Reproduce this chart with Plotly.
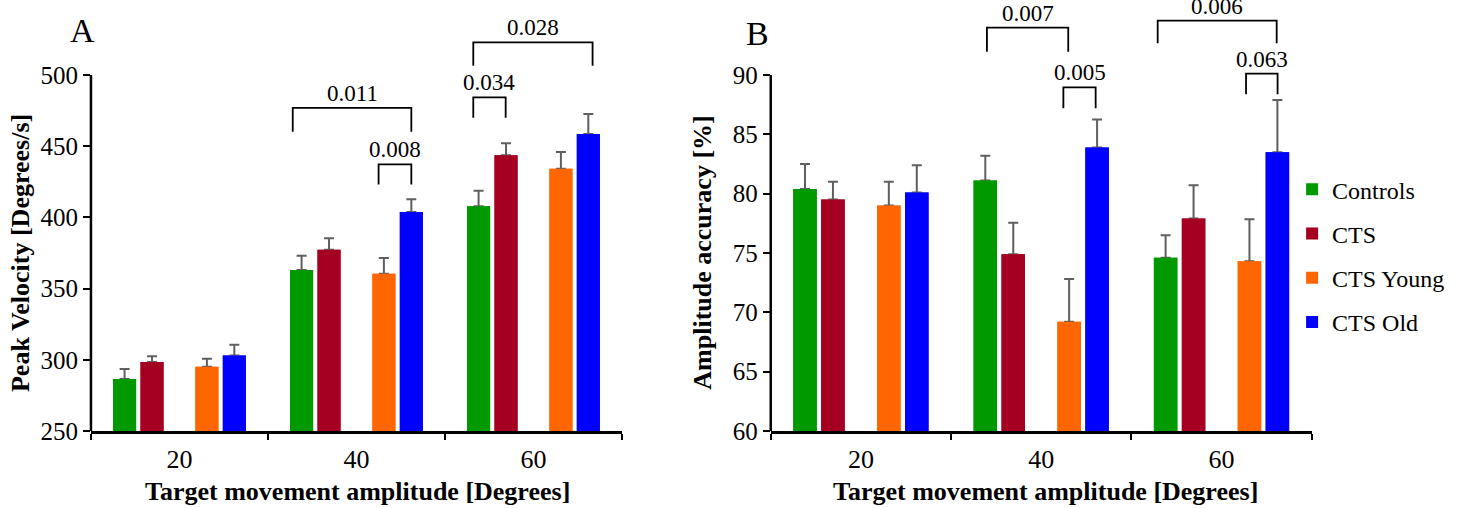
import plotly.graph_objects as go

# ---------------- data ----------------
categories = ["20", "40", "60"]
group_names = ["Controls", "CTS", "CTS Young", "CTS Old"]
group_colors = ["#009900", "#A50021", "#FF6600", "#0000FF"]

# Panel A: Peak velocity [Degrees/s]
pv_controls = [286.5, 363.0, 407.8]
pv_cts = [298.5, 377.3, 443.6]
pv_young = [295.2, 360.5, 434.2]
pv_old = [303.1, 403.8, 458.6]
pv_controls_err = [7.0, 10.0, 11.0]
pv_cts_err = [4.0, 8.0, 8.5]
pv_young_err = [5.5, 11.0, 11.7]
pv_old_err = [7.5, 9.0, 14.0]

# Panel B: Amplitude accuracy [%]
aa_controls = [80.4, 81.1, 74.6]
aa_cts = [79.5, 74.9, 77.9]
aa_young = [79.0, 69.2, 74.3]
aa_old = [80.1, 83.9, 83.5]
aa_controls_err = [2.1, 2.1, 1.9]
aa_cts_err = [1.5, 2.65, 2.8]
aa_young_err = [2.0, 3.6, 3.55]
aa_old_err = [2.3, 2.35, 4.4]

# significance brackets: label, x-start, x-end (category index units), top, leg bottom
pv_brackets = [
    ("0.011", 0.64, 1.31, 477.0, 460.2),
    ("0.008", 1.125, 1.31, 437.3, 423.2),
    ("0.028", 1.66, 2.334, 523.0, 506.5),
    ("0.034", 1.66, 1.843, 484.3, 470.0),
]
aa_brackets = [
    ("0.007", 0.699, 1.150, 93.99, 91.96),
    ("0.005", 1.123, 1.302, 88.96, 87.19),
    ("0.006", 1.646, 2.306, 94.58, 92.67),
    ("0.063", 2.136, 2.311, 90.11, 88.37),
]

pv_ticks = [250, 300, 350, 400, 450, 500]
aa_ticks = [60, 65, 70, 75, 80, 85, 90]

FONT = "Liberation Serif, Times New Roman, serif"
ERR_COLOR = "#5f5f5f"

fig = go.Figure()

panels = [
    ("A", "x", "y", [pv_controls, pv_cts, pv_young, pv_old],
     [pv_controls_err, pv_cts_err, pv_young_err, pv_old_err], True),
    ("B", "x2", "y2", [aa_controls, aa_cts, aa_young, aa_old],
     [aa_controls_err, aa_cts_err, aa_young_err, aa_old_err], False),
]

slots = [0, 1, None, 2, 3]  # empty slot in the middle of each group

for pname, xa, ya, means, errs, show in panels:
    # bars with error bars
    for si, k in enumerate(slots):
        og = f"{pname}{si}"
        if k is None:
            fig.add_trace(go.Bar(
                x=categories, y=[0, 0, 0], xaxis=xa, yaxis=ya,
                offsetgroup=og, alignmentgroup=pname,
                marker=dict(color="rgba(0,0,0,0)"), showlegend=False,
                hoverinfo="skip"))
            continue
        fig.add_trace(go.Bar(
            x=categories, y=means[k], name=group_names[k],
            legendgroup=group_names[k], showlegend=show,
            offsetgroup=og, alignmentgroup=pname,
            xaxis=xa, yaxis=ya,
            marker=dict(color=group_colors[k], line=dict(width=0)),
            error_y=dict(type="data", array=errs[k], arrayminus=[0, 0, 0],
                         symmetric=False, color=ERR_COLOR, thickness=2,
                         width=5),
        ))
    # same bars drawn again on top to hide the lower error-bar caps
    for si, k in enumerate(slots):
        if k is None:
            continue
        fig.add_trace(go.Bar(
            x=categories, y=means[k], name=group_names[k],
            legendgroup=group_names[k], showlegend=False,
            offsetgroup=f"{pname}{si}", alignmentgroup=pname,
            xaxis=xa, yaxis=ya, hoverinfo="skip",
            marker=dict(color=group_colors[k], line=dict(width=0)),
        ))

shapes = []
annotations = []


def add_brackets(brackets, xref, yref):
    for label, x0, x1, ytop, ybot in brackets:
        shapes.append(dict(type="path", xref=xref, yref=yref,
                           path=f"M {x0},{ybot} L {x0},{ytop} L {x1},{ytop} L {x1},{ybot}",
                           line=dict(color="black", width=1.8)))
        annotations.append(dict(x=(x0 + x1) / 2, y=ytop, xref=xref, yref=yref,
                                text=label, showarrow=False, xanchor="center",
                                yanchor="bottom",
                                font=dict(family=FONT, size=23, color="black")))


add_brackets(pv_brackets, "x", "y")
add_brackets(aa_brackets, "x2", "y2")

# y axis lines, only spanning the tick range
shapes.append(dict(type="line", xref="x domain", yref="y", x0=0, x1=0,
                   y0=pv_ticks[0], y1=pv_ticks[-1],
                   line=dict(color="black", width=2.5)))
shapes.append(dict(type="line", xref="x2 domain", yref="y2", x0=0, x1=0,
                   y0=aa_ticks[0], y1=aa_ticks[-1],
                   line=dict(color="black", width=2.5)))

# panel letters
annotations.append(dict(x=0.0568, y=0.929, xref="paper", yref="paper", text="A",
                        xanchor="center", yanchor="middle", showarrow=False,
                        font=dict(family=FONT, size=34, color="black")))
annotations.append(dict(x=0.5185, y=0.923, xref="paper", yref="paper", text="B",
                        xanchor="center", yanchor="middle", showarrow=False,
                        font=dict(family=FONT, size=34, color="black")))

# axis titles
TITLE_FONT = dict(family=FONT, size=26, color="black")
annotations.append(dict(x=0.0137, y=(pv_ticks[0] + pv_ticks[-1]) / 2, xref="paper", yref="y",
                        text="<b>Peak Velocity [Degrees/s]</b>", textangle=-90,
                        xanchor="center", yanchor="middle", showarrow=False, font=TITLE_FONT))
annotations.append(dict(x=0.4806, y=(aa_ticks[0] + aa_ticks[-1]) / 2, xref="paper", yref="y2",
                        text="<b>Amplitude accuracy [%]</b>", textangle=-90,
                        xanchor="center", yanchor="middle", showarrow=False, font=TITLE_FONT))
for xc in (0.2449, 0.716):
    annotations.append(dict(x=xc, y=-0.1408, xref="paper", yref="paper",
                            text="<b>Target movement amplitude [Degrees]</b>",
                            xanchor="center", yanchor="middle", showarrow=False,
                            font=TITLE_FONT))

xaxis_common = dict(type="category", showline=True, linecolor="black", linewidth=2.5,
                    ticks="outside", tickson="boundaries", ticklen=6, tickwidth=2,
                    tickcolor="black", showgrid=False, zeroline=False,
                    tickfont=dict(family=FONT, size=26, color="black"),
                    ticklabelstandoff=3)
yaxis_common = dict(showline=False, ticks="outside", ticklen=7, tickwidth=2,
                    tickcolor="black", showgrid=False, zeroline=False,
                    tickfont=dict(family=FONT, size=25, color="black"))

fig.update_layout(
    width=1460, height=508,
    margin=dict(l=0, r=0, t=0, b=77),
    paper_bgcolor="white", plot_bgcolor="white",
    barmode="group", bargap=0.225, bargroupgap=0.16,
    xaxis=dict(domain=[0.0623, 0.426], anchor="y", **xaxis_common),
    xaxis2=dict(domain=[0.5279, 0.8984], anchor="y2", **xaxis_common),
    yaxis=dict(anchor="x", range=[250, 552.7], tickvals=pv_ticks, **yaxis_common),
    yaxis2=dict(anchor="x2", range=[60, 96.32], tickvals=aa_ticks, **yaxis_common),
    legend=dict(x=0.885, y=0.612, xanchor="left", yanchor="top",
                font=dict(family=FONT, size=24, color="black"),
                traceorder="grouped", tracegroupgap=10, bgcolor="rgba(0,0,0,0)"),
    shapes=shapes,
    annotations=annotations,
    showlegend=True,
)

fig.write_html("out.html", config={"displayModeBar": False},
               post_script="document.body.style.margin='0';")
